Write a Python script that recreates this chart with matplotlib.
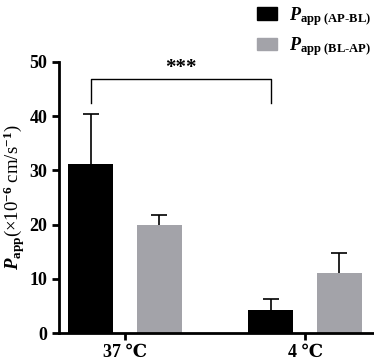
import matplotlib
matplotlib.use('Agg')
import matplotlib.pyplot as plt
import numpy as np
from matplotlib.patches import Patch

plt.rcParams['font.family'] = ['Liberation Serif', 'DejaVu Serif']
plt.rcParams['font.weight'] = 'bold'
plt.rcParams['mathtext.fontset'] = 'custom'
plt.rcParams['mathtext.rm'] = 'Liberation Serif:bold'
plt.rcParams['mathtext.it'] = 'Liberation Serif:bold:italic'
plt.rcParams['mathtext.bf'] = 'Liberation Serif:bold'

groups = ['37 \u2103', '4 \u2103']
ap_bl = [31.2, 4.3]
ap_bl_err = [9.2, 2.0]
bl_ap = [19.9, 11.1]
bl_ap_err = [1.8, 3.7]
labels = [r'$\mathit{P}_{\mathrm{app\ (AP\text{-}BL)}}$', r'$\mathit{P}_{\mathrm{app\ (BL\text{-}AP)}}$']

fig = plt.figure(figsize=(3.74, 3.6), dpi=100)
ax = fig.add_axes([0.158, 0.075, 0.842, 0.753])

x = np.arange(len(groups))
w = 0.25
off = 0.19
ax.bar(x - off, ap_bl, w, color='black')
ax.bar(x + off, bl_ap, w, color='#a3a3a9')
for xs, ys, es in [(x - off, ap_bl, ap_bl_err), (x + off, bl_ap, bl_ap_err)]:
    eb = ax.errorbar(xs, ys, yerr=[np.zeros(2), es], fmt='none', ecolor='black',
                     elinewidth=1.2, capsize=6, capthick=1.2)
    eb[1][0].set_visible(False)

# significance bracket
ax.plot([x[0] - off, x[0] - off, x[1] - off, x[1] - off], [42.4, 46.9, 46.9, 42.4], color='black', lw=1)
ax.text((x[0] + x[1]) / 2 - off, 47.1, '***', ha='center', va='bottom', fontsize=15, fontweight='bold')

ax.set_xlim(-0.367, 1.383)
ax.set_ylim(0, 50)
ax.set_yticks([0, 10, 20, 30, 40, 50])
ax.set_xticks(x)
ax.set_xticklabels(groups)
ax.tick_params(axis='both', labelsize=13, width=2, length=5)
ax.tick_params(axis='x', pad=3)
for s in ['top', 'right']:
    ax.spines[s].set_visible(False)
for s in ['left', 'bottom']:
    ax.spines[s].set_linewidth(2)
ax.set_ylabel(r'$\mathit{P}_{\mathrm{app}}$(×10$^{-6}$ cm/s$^{-1}$)', fontsize=13.5, labelpad=2)

handles = [Patch(color='black'), Patch(color='#a3a3a9')]
fig.legend(handles, labels, loc='upper left', bbox_to_anchor=(0.645, 1.03), frameon=False,
           fontsize=13, handlelength=1.1, handleheight=0.7, labelspacing=0.45, handletextpad=0.65)

fig.savefig('out.png', dpi=100)
